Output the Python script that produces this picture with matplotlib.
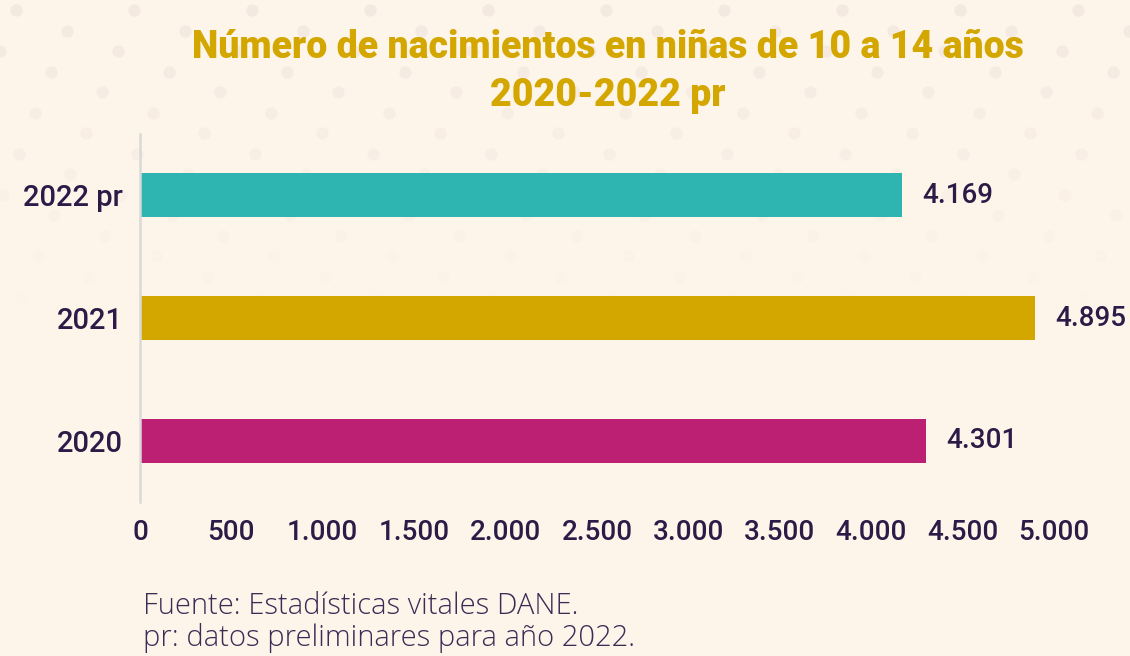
import numpy as np
import matplotlib.pyplot as plt
from matplotlib.ticker import FuncFormatter

# Data
years = ["2020", "2021", "2022 pr"]
births = [4301, 4895, 4169]
bar_colors = ["#bc2072", "#d4a600", "#2fb5b1"]
x_ticks = [0, 500, 1000, 1500, 2000, 2500, 3000, 3500, 4000, 4500, 5000]

BG = "#fef5ea"
DARK = "#2e1a47"
GOLD = "#d4a600"


def miles(v, pos=None):
    # Spanish thousands separator
    return f"{int(v):,}".replace(",", ".")


fig = plt.figure(figsize=(11.3, 6.56), dpi=100)
fig.patch.set_facecolor(BG)

# decorative dotted background
bg = fig.add_axes([0, 0, 1, 1], zorder=-5)
bg.set_xlim(0, 1130)
bg.set_ylim(656, 0)
bg.axis("off")
rows = np.arange(10, 320, 20.5)
for i, ry in enumerate(rows):
    xs = np.arange((16 + 51 * i) % 118 - 118, 1130, 118)
    fade = max(0.0, 1 - ry / 320)
    bg.scatter(xs, np.full_like(xs, ry, dtype=float), s=80, color="#f2e6de",
               alpha=0.8 * fade, linewidths=0)

ax = fig.add_axes([140 / 1130, 1 - 502 / 656, (1054 - 140) / 1130, (502 - 134) / 656])
ax.set_facecolor("none")

pos = np.arange(len(years))
ax.barh(pos, births, height=0.36, color=bar_colors, zorder=2)

for p, v in zip(pos, births):
    ax.text(v + 110, p, miles(v), va="center", ha="left", fontsize=20,
            family="Roboto", fontweight="medium", color=DARK)

ax.set_xlim(0, 5000)
ax.set_ylim(-0.5, 2.5)
ax.set_yticks(pos)
ax.set_yticklabels(years, fontsize=21, family="Roboto", fontweight="medium", color=DARK)
ax.set_xticks(x_ticks)
ax.xaxis.set_major_formatter(FuncFormatter(miles))
for lab in ax.get_xticklabels():
    lab.set_fontsize(20)
    lab.set_family("Roboto")
    lab.set_fontweight("medium")
    lab.set_color(DARK)
ax.tick_params(axis="both", length=0)
ax.tick_params(axis="x", pad=12)
ax.tick_params(axis="y", pad=12)

for s in ["top", "right", "bottom"]:
    ax.spines[s].set_visible(False)
ax.spines["left"].set_color("#d9d9d9")
ax.spines["left"].set_linewidth(1.8)

fig.text(608 / 1130, 1 - 48 / 656, "Número de nacimientos en niñas de 10 a 14 años",
         ha="center", va="center", fontsize=27, fontweight="heavy",
         family="Roboto", color=GOLD)
fig.text(608 / 1130, 1 - 95 / 656, "2020-2022 pr",
         ha="center", va="center", fontsize=27, fontweight="heavy",
         family="Roboto", color=GOLD)

fig.text(143 / 1130, 1 - 606 / 656, "Fuente: Estadísticas vitales DANE.",
         ha="left", va="center", fontsize=21, family="Open Sans",
         fontweight="light", color="#3d2a55")
fig.text(143 / 1130, 1 - 638 / 656, "pr: datos preliminares para año 2022.",
         ha="left", va="center", fontsize=21, family="Open Sans",
         fontweight="light", color="#3d2a55")

fig.savefig("out.png", dpi=100, facecolor=BG)
